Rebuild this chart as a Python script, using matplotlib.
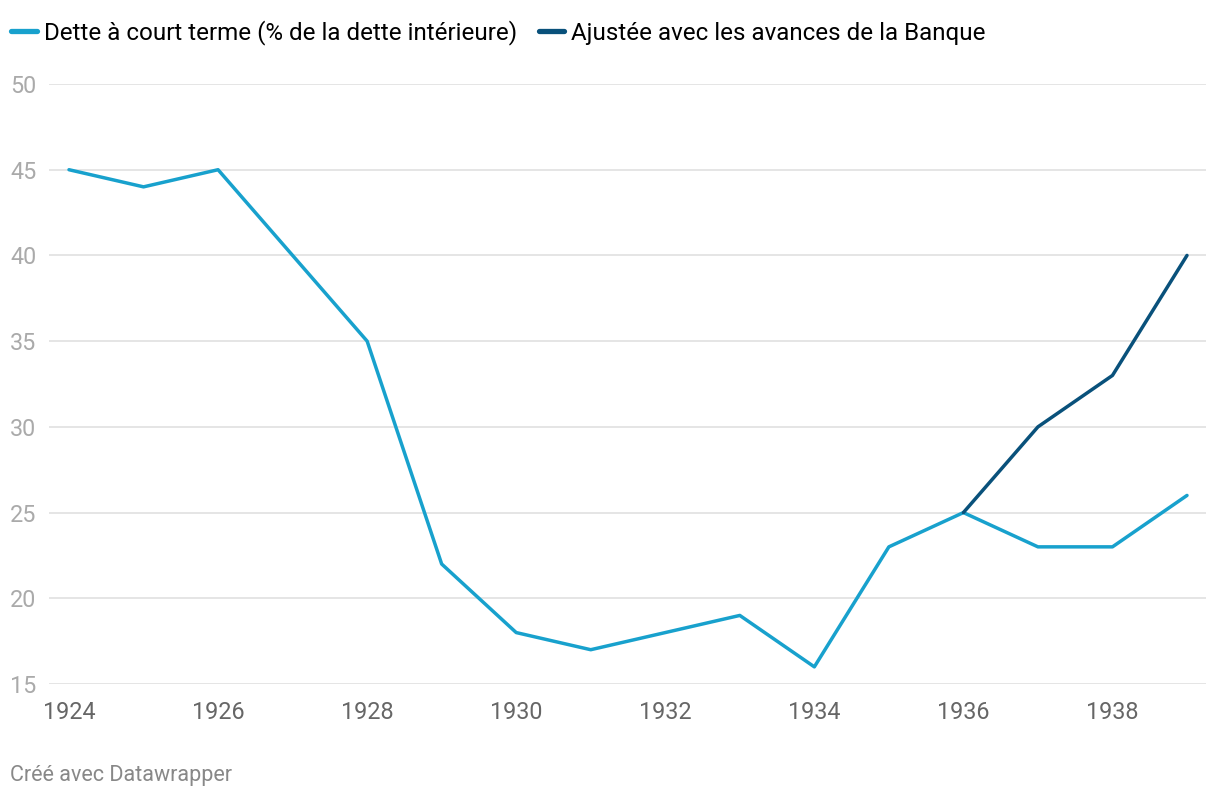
import matplotlib.pyplot as plt
from matplotlib.ticker import FixedLocator

# ── Data ─────────────────────────────────────────────────────
years      = [1924, 1925, 1926, 1927, 1928, 1929, 1930, 1931,
              1932, 1933, 1934, 1935, 1936, 1937, 1938, 1939]
short_debt = [45, 44, 45, 40, 35, 22, 18, 17, 18, 19, 16, 23, 25, 23, 23, 26]

adj_years  = [1936, 1937, 1938, 1939]
adj_debt   = [25, 30, 33, 40]

x_ticks = [1924, 1926, 1928, 1930, 1932, 1934, 1936, 1938]
y_ticks = [15, 20, 25, 30, 35, 40, 45, 50]

LIGHT = '#18a1cd'
DARK  = '#09517b'

plt.rcParams['font.family'] = ['Roboto', 'DejaVu Sans']

fig = plt.figure(figsize=(12.2, 8), dpi=100)
ax = fig.add_axes([49 / 1220, 116 / 800, (1206 - 49) / 1220, 600 / 800])

ax.plot(years, short_debt, color=LIGHT, lw=2.5, solid_capstyle='round',
        label='Dette à court terme (% de la dette intérieure)', zorder=3)
ax.plot(adj_years, adj_debt, color=DARK, lw=2.5, solid_capstyle='round',
        label='Ajustée avec les avances de la Banque', zorder=4)

ax.set_xlim(1924 - 20 / 74.53, 1939 + 19 / 74.53)
ax.set_ylim(15, 50)
ax.xaxis.set_major_locator(FixedLocator(x_ticks))
ax.yaxis.set_major_locator(FixedLocator(y_ticks))
ax.grid(axis='y', color='#e0e0e0', lw=1.2)
ax.set_axisbelow(True)
for s in ax.spines.values():
    s.set_visible(False)
ax.tick_params(axis='x', length=0, pad=12, labelsize=16.8, labelcolor='#666666')
ax.tick_params(axis='y', length=0, pad=28, labelsize=16.8, labelcolor='#aaaaaa')
for lbl in ax.get_yticklabels():
    lbl.set_horizontalalignment('left')
for line in ax.lines:
    line.set_clip_on(False)

leg = fig.legend(loc='upper left', bbox_to_anchor=(0.0, 1.0), ncol=2,
                 frameon=False, fontsize=17.4, handlelength=1.05,
                 handletextpad=0.28, columnspacing=0.9,
                 borderaxespad=0.0, borderpad=0.6)
leg.set_bbox_to_anchor((-3 / 1220, 1 - 6 / 800), transform=fig.transFigure)
for h in leg.get_lines():
    h.set_linewidth(3.8)

fig.text(10 / 1220, 1 - 776 / 800, 'Créé avec Datawrapper', fontsize=15.5,
         color='#888888', va='center', ha='left')

fig.savefig('out.png', dpi=100)
